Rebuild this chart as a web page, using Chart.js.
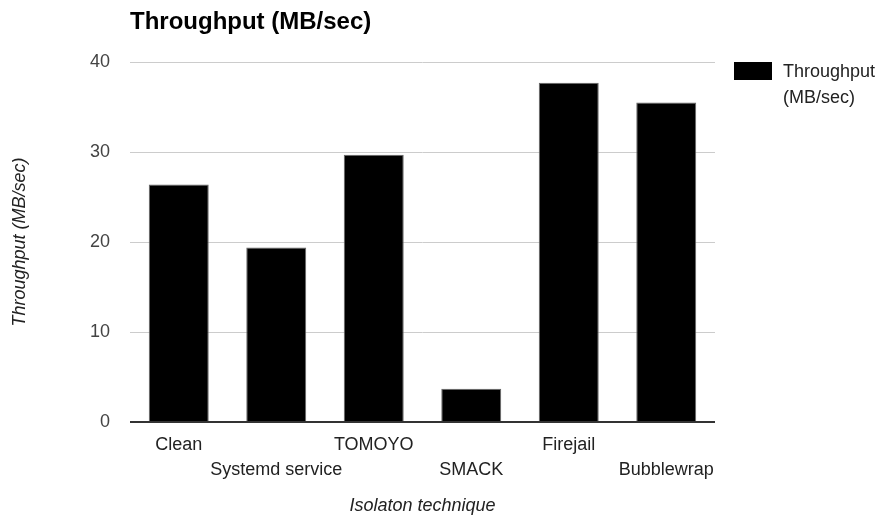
<!DOCTYPE html>
<html>
<head>
<meta charset="utf-8">
<script src="https://cdn.jsdelivr.net/npm/chart.js@4"></script>
<style>
  html, body { margin: 0; padding: 0; background: #fff; }
  #wrap { width: 881px; height: 519px; position: relative; }
</style>
</head>
<body>
<div id="wrap"><canvas id="chart" width="881" height="519"></canvas></div>
<script>
// Throughput per isolation technique
const techniques = ['Clean', 'Systemd service', 'TOMOYO', 'SMACK', 'Firejail', 'Bubblewrap'];
const throughput = [26.4, 19.4, 29.7, 3.7, 37.7, 35.5];
const seriesName = 'Throughput (MB/sec)';
const legendLines = ['Throughput', '(MB/sec)'];
const chartTitle = 'Throughput (MB/sec)';
const xTitle = 'Isolaton technique';
const yTitle = 'Throughput (MB/sec)';
const yTicks = { min: 0, max: 40, step: 10 };

const FONT = 'Arial, "Liberation Sans", sans-serif';

// title + legend drawn on the canvas
const headerPlugin = {
    id: 'header',
    afterDraw(chart) {
        const ctx = chart.ctx;
        const area = chart.chartArea;
        ctx.save();
        ctx.fillStyle = '#000';
        ctx.font = 'bold 24px ' + FONT;
        ctx.textBaseline = 'alphabetic';
        ctx.textAlign = 'left';
        ctx.fillText(chartTitle, area.left, 29);

        // legend
        ctx.fillStyle = '#000';
        ctx.fillRect(734, 62, 38, 18);
        ctx.fillStyle = '#222';
        ctx.font = '18px ' + FONT;
        ctx.textBaseline = 'middle';
        legendLines.forEach((t, i) => ctx.fillText(t, 783, 72 + i * 26));
        ctx.restore();
    }
};

new Chart(document.getElementById('chart'), {
    type: 'bar',
    data: {
        labels: techniques,
        datasets: [{
            label: seriesName,
            data: throughput,
            backgroundColor: '#000',
            borderColor: '#666',
            borderWidth: 1,
            barPercentage: 0.615,
            categoryPercentage: 1.0
        }]
    },
    options: {
        responsive: false,
        animation: false,
        layout: { padding: { top: 62, right: 166, bottom: 0, left: 0 } },
        plugins: {
            legend: { display: false },
            title: { display: false },
            tooltip: { enabled: false }
        },
        scales: {
            x: {
                grid: { display: false, drawTicks: false },
                border: { display: false },
                ticks: {
                    autoSkip: false,
                    maxRotation: 0,
                    padding: 10,
                    color: '#222',
                    font: { family: FONT, size: 18, lineHeight: 1.4 },
                    // stagger every other label onto a second row
                    callback: function (v, i) {
                        const lab = this.getLabelForValue(v);
                        return i % 2 === 1 ? ['', lab] : lab;
                    }
                },
                title: {
                    display: true,
                    text: xTitle,
                    color: '#222',
                    padding: { top: 0, bottom: 2 },
                    font: { family: FONT, size: 18, style: 'italic' }
                },
                afterFit: s => { s.height = 97; }
            },
            y: {
                min: yTicks.min,
                max: yTicks.max,
                grid: {
                    drawTicks: false,
                    color: c => c.tick && c.tick.value === 0 ? '#333' : '#ccc',
                    lineWidth: c => c.tick && c.tick.value === 0 ? 2 : 1
                },
                border: { display: false },
                ticks: {
                    stepSize: yTicks.step,
                    padding: 20,
                    color: '#444',
                    font: { family: FONT, size: 18 }
                },
                title: {
                    display: true,
                    text: yTitle,
                    color: '#222',
                    padding: { top: 9, bottom: 0 },
                    font: { family: FONT, size: 18, style: 'italic' }
                },
                afterFit: s => { s.width = 130; }
            }
        }
    },
    plugins: [headerPlugin]
});
</script>
</body>
</html>
